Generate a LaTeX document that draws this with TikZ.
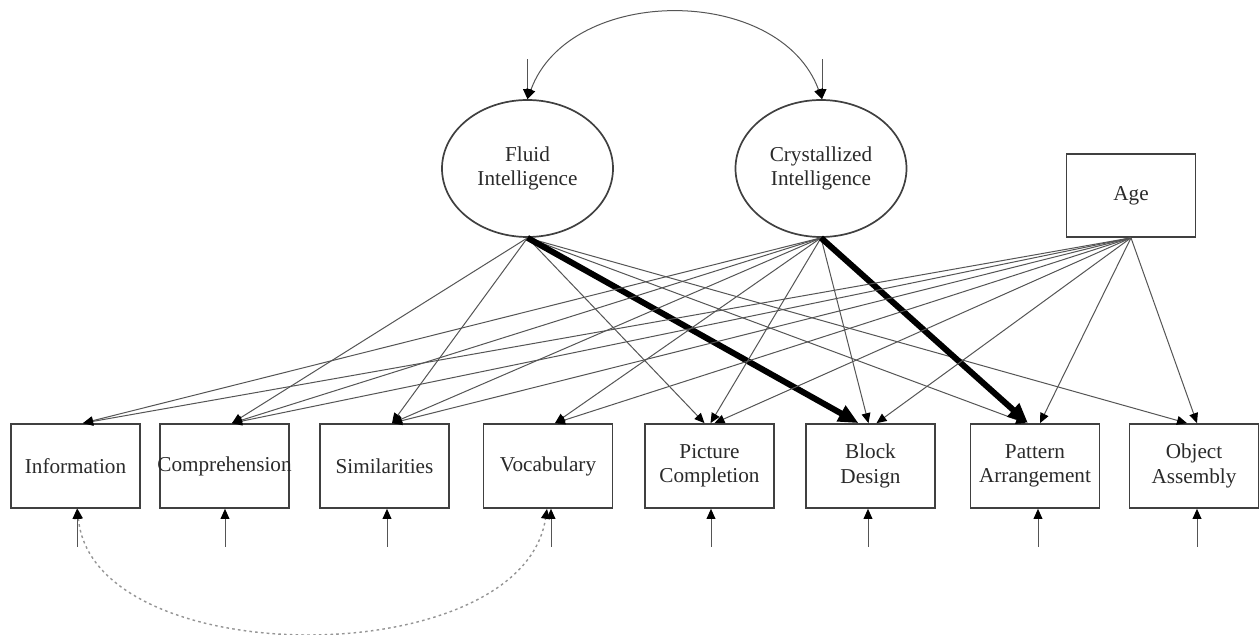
\documentclass[tikz,border=0pt]{standalone}
\usepackage{fontspec}
\setmainfont{Liberation Serif}
\usetikzlibrary{arrows.meta,calc,shapes.geometric}
\definecolor{ink}{HTML}{2A2A2A}
\definecolor{edgegray}{HTML}{555555}
\definecolor{frame}{HTML}{404040}
\definecolor{dashgray}{HTML}{959595}

\begin{document}
\begin{tikzpicture}[x=0.5pt,y=-0.5pt,
  every node/.style={font=\fontsize{10.6}{12.2}\selectfont, text=ink},
  obs/.style={draw=frame, line width=0.85pt, minimum width=64.5pt, minimum height=42pt, inner sep=0pt, align=center},
  latent/.style={draw=frame, line width=0.85pt, ellipse, minimum width=85.5pt, minimum height=68.5pt, inner sep=0pt, align=center},
  small head/.style={Triangle[length=5pt,width=4.4pt,color=black]},
  load/.style={draw=edgegray, line width=0.5pt, -{Triangle[length=5pt,width=4.4pt,color=black]}},
  strong/.style={draw=black, line width=3pt, -{Triangle[length=10pt,width=8.5pt]}},
  resid/.style={draw=edgegray, line width=0.5pt, -{Triangle[length=5pt,width=4.4pt,color=black]}},
  cov/.style={draw=edgegray, line width=0.5pt, {Triangle[length=5pt,width=4.4pt,color=black]}-{Triangle[length=5pt,width=4.4pt,color=black]}},
  rescov/.style={draw=dashgray, line width=0.7pt, dash pattern=on 1.3pt off 1.6pt,
    {Triangle[length=5pt,width=4.4pt,color=black]}-{Triangle[length=5pt,width=4.4pt,color=black]}},
]
\fill[white] (0,0) rectangle (1260,635);
\useasboundingbox (0,0) rectangle (1260,635);

% latent factors and the covariate
\node[latent] (fluid) at (527.5,168.5) {Fluid\\Intelligence};
\node[latent] (cryst) at (821,168.5) {Crystallized\\Intelligence};
\node[obs, minimum height=41.5pt] (age) at (1131,195.5) {Age};

% subtests
\node[obs] (info)  at (75.5,466)  {Information};
\node[obs] (comp)  at (224.5,466) {\makebox[60pt]{Comprehension}};
\node[obs] (sim)   at (384.5,466) {Similarities};
\node[obs] (voc)   at (548,466)   {Vocabulary};
\node[obs] (pic)   at (709.5,466) {Picture\\Completion};
\node[obs] (block) at (870.5,466) {Block\\Design};
\node[obs] (patt)  at (1035,466)  {Pattern\\Arrangement};
\node[obs] (obj)   at (1194,466)  {Object\\Assembly};

% factor disturbances and their covariance
\coordinate (dF) at ([yshift=20pt]fluid.north);
\coordinate (dC) at ([xshift=0.5pt,yshift=20pt]cryst.north);
\draw[resid] (dF) -- (fluid.north);
\draw[resid] (dC) -- ([xshift=0.5pt]cryst.north);
\draw[cov] (fluid.north) .. controls +(42,-115) and +(-42,-115) .. ([xshift=0.5pt]cryst.north);

% loadings of the fluid factor
\draw[load] (fluid.south) -- ([xshift=3.75pt]comp.north);
\draw[load] (fluid.south) -- ([xshift=3.75pt]sim.north);
\draw[load] (fluid.south) -- ([xshift=-2.5pt]pic.north);
\draw[load] (fluid.south) -- ([xshift=-4.5pt]patt.north);
\draw[load] (fluid.south) -- ([xshift=-3.5pt]obj.north);
\draw[strong] (fluid.south) -- ([xshift=-6pt]block.north);

% loadings of the crystallized factor
\draw[load] (cryst.south) -- ([xshift=3.75pt]info.north);
\draw[load] (cryst.south) -- ([xshift=3.75pt]comp.north);
\draw[load] (cryst.south) -- ([xshift=3.75pt]sim.north);
\draw[load] (cryst.south) -- ([xshift=3.5pt]voc.north);
\draw[load] (cryst.south) -- ([xshift=0.5pt]pic.north);
\draw[load] (cryst.south) -- ([xshift=-1pt]block.north);
\draw[strong] (cryst.south) -- ([xshift=-3.5pt]patt.north);

% effects of age
\draw[load] (age.south) -- ([xshift=3.75pt]info.north);
\draw[load] (age.south) -- ([xshift=3.75pt]comp.north);
\draw[load] (age.south) -- ([xshift=3.75pt]sim.north);
\draw[load] (age.south) -- ([xshift=3.5pt]voc.north);
\draw[load] (age.south) -- ([xshift=2.5pt]pic.north);
\draw[load] (age.south) -- ([xshift=3pt]block.north);
\draw[load] (age.south) -- ([xshift=2.5pt]patt.north);
\draw[load] (age.south) -- ([xshift=1.5pt]obj.north);

% residuals of the subtests
\foreach \n/\dx in {info/0.75, comp/0.25, sim/1.25, voc/1.5, pic/0.75, block/-1.25, patt/1.5, obj/1.5}{
  \coordinate (e-\n) at ([xshift=\dx pt,yshift=-19pt]\n.south);
  \draw[resid] (e-\n) -- ([xshift=\dx pt]\n.south);
}

% correlated residuals
\draw[rescov] ([xshift=1pt]info.south) .. controls +(15,165) and +(-25,165) .. ([xshift=-0.5pt]voc.south);
\end{tikzpicture}
\end{document}
